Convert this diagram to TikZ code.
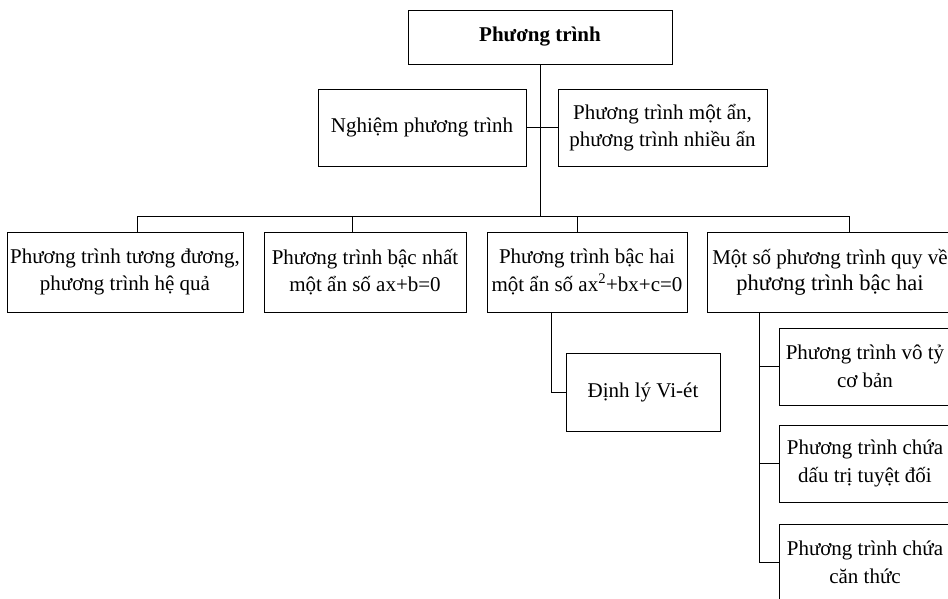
\documentclass[tikz,border=0pt]{standalone}
\usepackage{fontspec}
\setmainfont{Liberation Serif}
\begin{document}
\begin{tikzpicture}[x=1pt,y=-1pt,
  box/.style={draw, line width=0.8pt, rectangle, align=center, inner sep=0pt,
    font=\fontsize{21}{27.5}\selectfont},
  conn/.style={line width=0.8pt}]
\clip (0,0) rectangle (948,598);
\fill[white] (0,0) rectangle (948,598);
% nodes
\node[box, minimum width=264pt, minimum height=54pt, font=\fontsize{21}{27}\selectfont\bfseries] (top) at (540,37) {Phương trình};
\node[box, minimum width=208pt, minimum height=77pt] (ngh) at (422,127.5) {Nghiệm phương trình};
\node[box, minimum width=209pt, minimum height=77pt] (one) at (662.5,127.5) {Phương trình một ẩn,\\phương trình nhiều ẩn};
\node[box, minimum width=236pt, minimum height=80pt] (b1) at (125,272) {Phương trình tương đương,\\phương trình hệ quả};
\node[box, minimum width=202pt, minimum height=80pt] (b2) at (365,272) {Phương trình bậc nhất\\một ẩn số ax+b=0};
\node[box, minimum width=200pt, minimum height=80pt] (b3) at (587,272) {Phương trình bậc hai\\một ẩn số ax\textsuperscript{2}+bx+c=0};
\node[box, minimum width=246pt, minimum height=80pt, font=\fontsize{21}{26}\selectfont] (b4) at (830,272) {Một số phương trình quy về\\{\fontsize{22.5}{26}\selectfont phương trình bậc hai}};
\node[box, minimum width=154pt, minimum height=78pt] (viet) at (643,392) {Định lý Vi-ét};
\node[box, minimum width=172pt, minimum height=77pt] (ra) at (865,366.5) {Phương trình vô tỷ\\cơ bản};
\node[box, minimum width=172pt, minimum height=77pt] (rb) at (865,463.5) {Phương trình chứa\\dấu trị tuyệt đối};
\node[box, minimum width=172pt, minimum height=77pt] (rc) at (865,562.5) {Phương trình chứa\\căn thức};
% coordinates
\coordinate (busL) at (137,216);
\coordinate (busR) at (849,216);
\coordinate (trunk) at (540,216);
\coordinate (d1) at (137,232);
\coordinate (d2) at (352,232);
\coordinate (d2t) at (352,216);
\coordinate (d3) at (577,232);
\coordinate (d3t) at (577,216);
\coordinate (d4) at (849,232);
\coordinate (vtop) at (551,312);
\coordinate (rtop) at (759,312);
% connectors
\draw[conn] (top.south) -- (trunk);
\draw[conn] (ngh.east) -- (one.west);
\draw[conn] (d1) -- (busL) -- (busR) -- (d4);
\draw[conn] (d2t) -- (d2);
\draw[conn] (d3t) -- (d3);
\draw[conn] (vtop) |- (viet.west);
\draw[conn] (rtop) |- (rc.west);
\draw[conn] (rtop |- ra.west) -- (ra.west);
\draw[conn] (rtop |- rb.west) -- (rb.west);
\end{tikzpicture}
\end{document}
